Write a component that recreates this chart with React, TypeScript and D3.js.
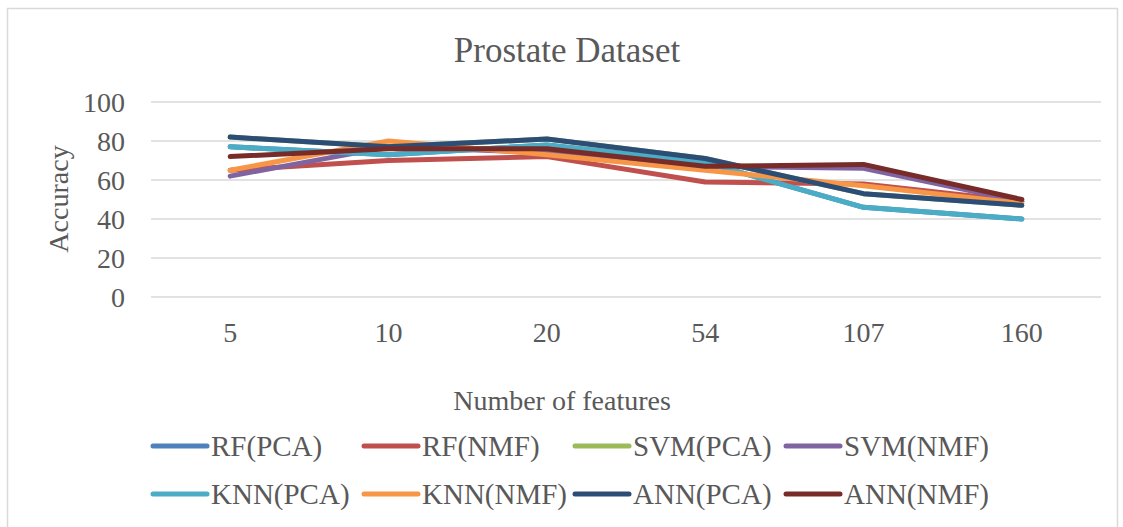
import React from 'react';
import * as d3 from 'd3';

// chart values
const categories = ['5', '10', '20', '54', '107', '160'];
const seriesNames = ['RF(PCA)', 'RF(NMF)', 'SVM(PCA)', 'SVM(NMF)', 'KNN(PCA)', 'KNN(NMF)', 'ANN(PCA)', 'ANN(NMF)'];
const rfPca = [77, 73, 78, 69, 46, 40];
const rfNmf = [65, 70, 72, 59, 58, 49];
const svmPca = [82, 77, 81, 71, 53, 47];
const svmNmf = [62, 77, 74, 67, 66, 49];
const knnPca = [77, 73, 78, 69, 46, 40];
const knnNmf = [65, 80, 73, 65, 57, 48];
const annPca = [82, 77, 81, 71, 53, 47];
const annNmf = [72, 76, 76, 67, 68, 50];
const yTicks = [0, 20, 40, 60, 80, 100];

const seriesValues = [rfPca, rfNmf, svmPca, svmNmf, knnPca, knnNmf, annPca, annNmf];
const colors = ['#4f81bd', '#c0504d', '#9bbb59', '#8064a2', '#4bacc6', '#f79646', '#2c4d75', '#772c2a'];

const W = 1123;
const H = 527;
const font = '"Liberation Serif", "Times New Roman", serif';
const textColor = '#595959';

const App = () => {
  const x = d3.scaleBand().domain(categories).range([151, 1101]);
  const y = d3.scaleLinear().domain([0, 100]).range([297, 102]);

  const line = d3
    .line<number>()
    .x((_, i) => (x(categories[i]) as number) + x.bandwidth() / 2)
    .y((d) => y(d));

  return (
    <div style={{ position: 'absolute', left: 0, top: 0 }}>
      <svg width={W} height={H} style={{ display: 'block' }}>
        <rect x={0} y={0} width={W} height={H} fill="#fff" />
        <rect x={7.5} y={8.5} width={1110} height={H + 10} fill="#fff" stroke="#d9d9d9" strokeWidth={1.5} />

        <text x={567} y={62} textAnchor="middle" fontFamily={font} fontSize={35} fill={textColor}>
          Prostate Dataset
        </text>

        {/* grid + y ticks */}
        {yTicks.map((t) => (
          <g key={t}>
            <line x1={151} x2={1101} y1={y(t)} y2={y(t)} stroke="#d9d9d9" strokeWidth={1.5} />
            <text x={125} y={y(t)} dy="0.35em" textAnchor="end" fontFamily={font} fontSize={28} fill={textColor}>
              {t}
            </text>
          </g>
        ))}

        <text
          transform="translate(68,199) rotate(-90)"
          textAnchor="middle"
          fontFamily={font}
          fontSize={28}
          fill={textColor}
        >
          Accuracy
        </text>

        {/* x ticks */}
        {categories.map((c) => (
          <text
            key={c}
            x={(x(c) as number) + x.bandwidth() / 2}
            y={342}
            textAnchor="middle"
            fontFamily={font}
            fontSize={28}
            fill={textColor}
          >
            {c}
          </text>
        ))}

        <text x={562} y={410} textAnchor="middle" fontFamily={font} fontSize={28} fill={textColor}>
          Number of features
        </text>

        {/* series */}
        {seriesValues.map((vals, i) => (
          <path
            key={seriesNames[i]}
            d={line(vals) || ''}
            fill="none"
            stroke={colors[i]}
            strokeWidth={5}
            strokeLinejoin="round"
            strokeLinecap="round"
          />
        ))}

        {/* legend */}
        {seriesNames.map((name, i) => {
          const col = i % 4;
          const row = Math.floor(i / 4);
          const lx = 153 + col * 211;
          const ly = 446 + row * 48;
          return (
            <g key={name}>
              <line x1={lx} x2={lx + 54} y1={ly} y2={ly} stroke={colors[i]} strokeWidth={5} strokeLinecap="round" />
              <text x={lx + 58} y={ly} dy="0.33em" fontFamily={font} fontSize={29} fill={textColor}>
                {name}
              </text>
            </g>
          );
        })}
      </svg>
    </div>
  );
};

export default App;
